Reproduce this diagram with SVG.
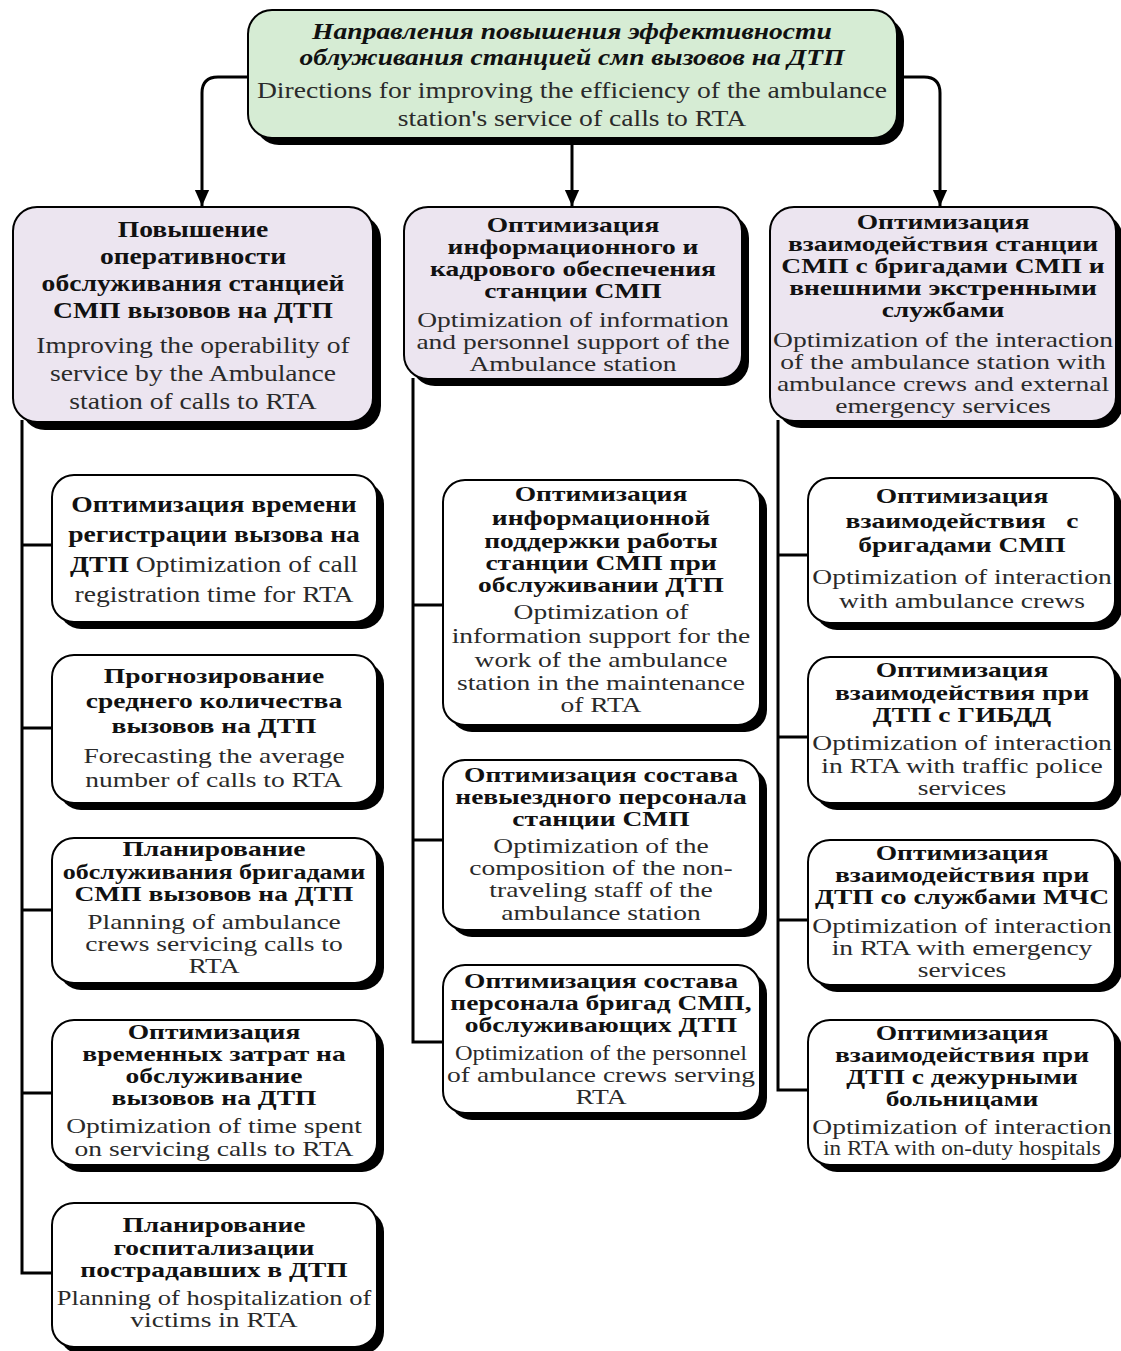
<svg xmlns="http://www.w3.org/2000/svg" width="1121" height="1351" viewBox="0 0 1121 1351">
<defs>
<marker id="ah" markerWidth="16" markerHeight="18" refX="18" refY="8" orient="auto" markerUnits="userSpaceOnUse" viewBox="0 0 18 16">
<path d="M0,0 L18,8 L0,16 Z" fill="#000"/>
</marker>
</defs>
<style>
.sh{fill:#000}
.bx{stroke:#000;stroke-width:2}
.top{fill:#d6ecd4}
.l2{fill:#ece5f0}
.ch{fill:#fff}
text{font-family:"Liberation Serif","Times New Roman",serif;text-anchor:middle}
.ru{font-weight:bold;font-size:24px;fill:#111}
.it{font-style:italic}
.en{font-size:24px;fill:#2a2a2a}
.tg .ru,.tg .en{font-size:21px}
.b{font-weight:bold;fill:#111}
.cn{fill:none;stroke:#000;stroke-width:3}
</style>
<rect width="1121" height="1351" fill="#fff"/>

<g id="connectors">
<path class="cn" d="M248,77 H218 Q202,77 202,93 V206" marker-end="url(#ah)"/>
<path class="cn" d="M572,145 V206" marker-end="url(#ah)"/>
<path class="cn" d="M897,77 H924 Q940,77 940,93 V206" marker-end="url(#ah)"/>
<path class="cn" d="M22,420 V1273 H52 M22,545 H52 M22,728 H52 M22,910 H52 M22,1093 H52"/>
<path class="cn" d="M413,378 V1042 H443 M413,605 H443 M413,840 H443"/>
<path class="cn" d="M778,420 V1090 H808 M778,555 H808 M778,737 H808 M778,920 H808"/>
</g>

<g id="n-top">
<rect class="sh" x="255" y="17" width="649" height="128" rx="24"/>
<rect class="bx top" x="248" y="10" width="649" height="128" rx="24"/>
<g transform="matrix(1.15,0,0,1,572,0)">
<text class="ru it" y="39" textLength="452" lengthAdjust="spacingAndGlyphs">Направления повышения эффективности</text>
<text class="ru it" y="65" textLength="474" lengthAdjust="spacingAndGlyphs">облуживания станцией смп вызовов на ДТП</text>
<text class="en" y="98">Directions for improving the efficiency of the ambulance</text>
<text class="en" y="126">station's service of calls to RTA</text>
</g>
</g>

<g id="n-l2-left">
<rect class="sh" x="21" y="215" width="360" height="215" rx="24"/>
<rect class="bx l2" x="13" y="207" width="360" height="215" rx="24"/>
<g transform="matrix(1.15,0,0,1,193,0)">
<text class="ru" y="237">Повышение</text>
<text class="ru" y="264">оперативности</text>
<text class="ru" y="291">обслуживания станцией</text>
<text class="ru" y="318">СМП вызовов на ДТП</text>
<text class="en" y="353">Improving the operability of</text>
<text class="en" y="381">service by the Ambulance</text>
<text class="en" y="409">station of calls to RTA</text>
</g>
</g>

<g id="n-l2-mid">
<rect class="sh" x="411" y="214" width="338" height="172" rx="24"/>
<rect class="bx l2" x="404" y="207" width="338" height="172" rx="24"/>
<g class="tg" transform="matrix(1.31,0,0,1,573,0)">
<text class="ru" y="232">Оптимизация</text>
<text class="ru" y="254">информационного и</text>
<text class="ru" y="276">кадрового обеспечения</text>
<text class="ru" y="298">станции СМП</text>
<text class="en" y="327">Optimization of information</text>
<text class="en" y="349">and personnel support of the</text>
<text class="en" y="371">Ambulance station</text>
</g>
</g>

<g id="n-l2-right">
<rect class="sh" x="777" y="214" width="346" height="214" rx="24"/>
<rect class="bx l2" x="770" y="207" width="346" height="214" rx="24"/>
<g class="tg" transform="matrix(1.31,0,0,1,943,0)">
<text class="ru" y="229">Оптимизация</text>
<text class="ru" y="251">взаимодействия станции</text>
<text class="ru" y="273">СМП с бригадами СМП и</text>
<text class="ru" y="295">внешними экстренными</text>
<text class="ru" y="317">службами</text>
<text class="en" y="347">Optimization of the interaction</text>
<text class="en" y="369">of the ambulance station with</text>
<text class="en" y="391">ambulance crews and external</text>
<text class="en" y="413">emergency services</text>
</g>
</g>

<g id="n-left-1">
<rect class="sh" x="59" y="482" width="325" height="147" rx="22"/>
<rect class="bx ch" x="52" y="475" width="325" height="147" rx="22"/>
<g transform="matrix(1.15,0,0,1,214,0)">
<text class="ru" y="512">Оптимизация времени</text>
<text class="ru" y="542">регистрации вызова на</text>
<text class="en" y="572"><tspan class="b">ДТП</tspan> Optimization of call</text>
<text class="en" y="602">registration time for RTA</text>
</g>
</g>

<g id="n-left-2">
<rect class="sh" x="59" y="662" width="325" height="148" rx="22"/>
<rect class="bx ch" x="52" y="655" width="325" height="148" rx="22"/>
<g class="tg" transform="matrix(1.31,0,0,1,214,0)">
<text class="ru" y="683">Прогнозирование</text>
<text class="ru" y="708">среднего количества</text>
<text class="ru" y="733">вызовов на ДТП</text>
<text class="en" y="763">Forecasting the average</text>
<text class="en" y="787">number of calls to RTA</text>
</g>
</g>

<g id="n-left-3">
<rect class="sh" x="59" y="845" width="325" height="145" rx="22"/>
<rect class="bx ch" x="52" y="838" width="325" height="145" rx="22"/>
<g class="tg" transform="matrix(1.31,0,0,1,214,0)">
<text class="ru" y="856">Планирование</text>
<text class="ru" y="879" textLength="231" lengthAdjust="spacingAndGlyphs">обслуживания бригадами</text>
<text class="ru" y="901">СМП вызовов на ДТП</text>
<text class="en" y="929">Planning of ambulance</text>
<text class="en" y="951">crews servicing calls to</text>
<text class="en" y="973">RTA</text>
</g>
</g>

<g id="n-left-4">
<rect class="sh" x="59" y="1027" width="325" height="145" rx="22"/>
<rect class="bx ch" x="52" y="1020" width="325" height="145" rx="22"/>
<g class="tg" transform="matrix(1.31,0,0,1,214,0)">
<text class="ru" y="1039">Оптимизация</text>
<text class="ru" y="1061">временных затрат на</text>
<text class="ru" y="1083">обслуживание</text>
<text class="ru" y="1105">вызовов на ДТП</text>
<text class="en" y="1133">Optimization of time spent</text>
<text class="en" y="1156">on servicing calls to RTA</text>
</g>
</g>

<g id="n-left-5">
<rect class="sh" x="59" y="1210" width="325" height="144" rx="22"/>
<rect class="bx ch" x="52" y="1203" width="325" height="144" rx="22"/>
<g class="tg" transform="matrix(1.31,0,0,1,214,0)">
<text class="ru" y="1232">Планирование</text>
<text class="ru" y="1255">госпитализации</text>
<text class="ru" y="1277">пострадавших в ДТП</text>
<text class="en" y="1305" textLength="240" lengthAdjust="spacingAndGlyphs">Planning of hospitalization of</text>
<text class="en" y="1327">victims in RTA</text>
</g>
</g>

<g id="n-mid-1">
<rect class="sh" x="450" y="487" width="317" height="245" rx="22"/>
<rect class="bx ch" x="443" y="480" width="317" height="245" rx="22"/>
<g class="tg" transform="matrix(1.31,0,0,1,601,0)">
<text class="ru" y="501">Оптимизация</text>
<text class="ru" y="525">информационной</text>
<text class="ru" y="548">поддержки работы</text>
<text class="ru" y="570">станции СМП при</text>
<text class="ru" y="592">обслуживании ДТП</text>
<text class="en" y="619">Optimization of</text>
<text class="en" y="643">information support for the</text>
<text class="en" y="667">work of the ambulance</text>
<text class="en" y="690">station in the maintenance</text>
<text class="en" y="712">of RTA</text>
</g>
</g>

<g id="n-mid-2">
<rect class="sh" x="450" y="767" width="317" height="170" rx="22"/>
<rect class="bx ch" x="443" y="760" width="317" height="170" rx="22"/>
<g class="tg" transform="matrix(1.31,0,0,1,601,0)">
<text class="ru" y="782">Оптимизация состава</text>
<text class="ru" y="804">невыездного персонала</text>
<text class="ru" y="826">станции СМП</text>
<text class="en" y="853">Optimization of the</text>
<text class="en" y="875">composition of the non-</text>
<text class="en" y="897">traveling staff of the</text>
<text class="en" y="920">ambulance station</text>
</g>
</g>

<g id="n-mid-3">
<rect class="sh" x="450" y="972" width="317" height="148" rx="22"/>
<rect class="bx ch" x="443" y="965" width="317" height="148" rx="22"/>
<g class="tg" transform="matrix(1.31,0,0,1,601,0)">
<text class="ru" y="988">Оптимизация состава</text>
<text class="ru" y="1010">персонала бригад СМП,</text>
<text class="ru" y="1032">обслуживающих ДТП</text>
<text class="en" y="1060" textLength="223" lengthAdjust="spacingAndGlyphs">Optimization of the personnel</text>
<text class="en" y="1082">of ambulance crews serving</text>
<text class="en" y="1104">RTA</text>
</g>
</g>

<g id="n-right-1">
<rect class="sh" x="815" y="485" width="307" height="145" rx="22"/>
<rect class="bx ch" x="808" y="478" width="307" height="145" rx="22"/>
<g class="tg" transform="matrix(1.31,0,0,1,962,0)">
<text class="ru" y="503">Оптимизация</text>
<text class="ru" y="528" style="white-space:pre">взаимодействия   с</text>
<text class="ru" y="552">бригадами СМП</text>
<text class="en" y="584">Optimization of interaction</text>
<text class="en" y="608">with ambulance crews</text>
</g>
</g>

<g id="n-right-2">
<rect class="sh" x="815" y="664" width="307" height="146" rx="22"/>
<rect class="bx ch" x="808" y="657" width="307" height="146" rx="22"/>
<g class="tg" transform="matrix(1.31,0,0,1,962,0)">
<text class="ru" y="677">Оптимизация</text>
<text class="ru" y="700">взаимодействия при</text>
<text class="ru" y="722">ДТП с ГИБДД</text>
<text class="en" y="750">Optimization of interaction</text>
<text class="en" y="773">in RTA with traffic police</text>
<text class="en" y="795">services</text>
</g>
</g>

<g id="n-right-3">
<rect class="sh" x="815" y="847" width="307" height="145" rx="22"/>
<rect class="bx ch" x="808" y="840" width="307" height="145" rx="22"/>
<g class="tg" transform="matrix(1.31,0,0,1,962,0)">
<text class="ru" y="860">Оптимизация</text>
<text class="ru" y="882">взаимодействия при</text>
<text class="ru" y="904">ДТП со службами МЧС</text>
<text class="en" y="933">Optimization of interaction</text>
<text class="en" y="955">in RTA with emergency</text>
<text class="en" y="977">services</text>
</g>
</g>

<g id="n-right-4">
<rect class="sh" x="815" y="1027" width="307" height="145" rx="22"/>
<rect class="bx ch" x="808" y="1020" width="307" height="145" rx="22"/>
<g class="tg" transform="matrix(1.31,0,0,1,962,0)">
<text class="ru" y="1040">Оптимизация</text>
<text class="ru" y="1062">взаимодействия при</text>
<text class="ru" y="1084">ДТП с дежурными</text>
<text class="ru" y="1106">больницами</text>
<text class="en" y="1134">Optimization of interaction</text>
</g>
<g class="tg" transform="matrix(1.10,0,0,1,962,0)">
<text class="en" y="1155">in RTA with on-duty hospitals</text>
</g>
</g>
</svg>
